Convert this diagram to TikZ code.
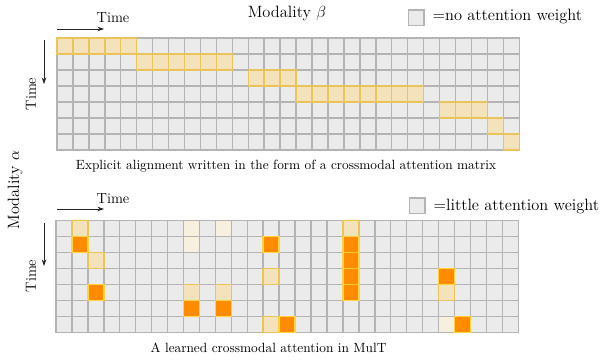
\documentclass[tikz,border=0pt]{standalone}
\usetikzlibrary{arrows.meta}
\definecolor{cellgray}{HTML}{EBEBEB}
\definecolor{linegray}{HTML}{B4B4B4}
\definecolor{lyfill}{HTML}{F4E3BA}
\definecolor{lyline}{HTML}{E8C45A}
\definecolor{orfill}{HTML}{FF8C00}
\definecolor{orline}{HTML}{FFD43C}
\definecolor{creamfill}{HTML}{F8F0DF}
\tikzset{
  cell/.style={fill=cellgray,draw=linegray,line width=1.1pt},
  lycell/.style={fill=lyfill,draw=lyline,line width=1.1pt},
  orcell/.style={fill=orfill,draw=orline,line width=1.1pt},
  timearrow/.style={-{Stealth[length=5pt,width=3.5pt]},line width=0.6pt,black!85},
  lbl/.style={inner sep=1pt,text=black},
  timelbl/.style={lbl,font=\fontsize{11}{13}\selectfont},
  caplbl/.style={lbl,font=\fontsize{10}{12}\selectfont},
  biglbl/.style={lbl,font=\fontsize{12.3}{14}\selectfont},
  legbox/.style={fill=cellgray,draw=linegray,line width=0.9pt}
}
\begin{document}
\begin{tikzpicture}[x=0.75pt,y=-0.75pt]
\useasboundingbox (0,0) rectangle (603,360);
\def\cw{15.94}\def\ch{16}
% ---------- top grid ----------
\def\tx{57}\def\ty{38}
\foreach \r in {0,...,6}{
  \foreach \c in {0,...,28}{
    \draw[cell] (\tx+\c*\cw,\ty+\r*\ch) rectangle ++(\cw,\ch);
  }
}
\foreach \c/\r in {0/0,1/0,2/0,3/0,4/0,
                   5/1,6/1,7/1,8/1,9/1,10/1,
                   12/2,13/2,14/2,
                   15/3,16/3,17/3,18/3,19/3,20/3,21/3,22/3,
                   24/4,25/4,26/4,
                   27/5,28/6}{
  \draw[lycell] (\tx+\c*\cw,\ty+\r*\ch) rectangle ++(\cw,\ch);
}
% ---------- bottom grid ----------
\def\bx{56}\def\by{220.7}
\foreach \r in {0,...,6}{
  \foreach \c in {0,...,28}{
    \draw[cell] (\bx+\c*\cw,\by+\r*\ch) rectangle ++(\cw,\ch);
  }
}
\foreach \c/\r in {8/0,8/1,10/0,24/6}{
  \fill[creamfill] (\bx+\c*\cw+0.6,\by+\r*\ch+0.6) rectangle ++(\cw-1.2,\ch-1.2);
}
\foreach \c/\r in {1/0,18/0,2/2,13/3,8/4,10/4,24/4,13/6}{
  \draw[lycell] (\bx+\c*\cw,\by+\r*\ch) rectangle ++(\cw,\ch);
}
\foreach \c/\r in {1/1,13/1,18/1,18/2,18/3,24/3,2/4,18/4,8/5,10/5,14/6,25/6}{
  \draw[orcell] (\bx+\c*\cw,\by+\r*\ch) rectangle ++(\cw,\ch);
}
% ---------- labels ----------
\node[biglbl] (modb) at (287,13) {Modality $\beta$};
\node[biglbl,rotate=90] (moda) at (15,190) {Modality $\alpha$};
\draw[legbox] (408.5,10) rectangle (424,25.5);
\node[biglbl,anchor=west] (leg1) at (431,16.5) {=no attention weight};
\draw[legbox] (409.5,198) rectangle (425,213.5);
\node[biglbl,anchor=west] (leg2) at (432,206) {=little attention weight};
% top time arrows
\coordinate (th1) at (57,29);
\coordinate (th2) at (104,29);
\draw[timearrow] (th1) -- (th2);
\node[timelbl] (tt1) at (113,18) {Time};
\coordinate (tv1) at (44,40);
\coordinate (tv2) at (44,84);
\draw[timearrow] (tv1) -- (tv2);
\node[timelbl,rotate=90] (tt2) at (31,94) {Time};
% bottom time arrows
\coordinate (bh1) at (57,209);
\coordinate (bh2) at (104,209);
\draw[timearrow] (bh1) -- (bh2);
\node[timelbl] (bt1) at (113,199) {Time};
\coordinate (bv1) at (44,223);
\coordinate (bv2) at (44,266);
\draw[timearrow] (bv1) -- (bv2);
\node[timelbl,rotate=90] (bt2) at (31,276) {Time};
% captions
\node[caplbl] (cap1) at (286,166) {Explicit alignment written in the form of a crossmodal attention matrix};
\node[caplbl] (cap2) at (268.5,348) {A learned crossmodal attention in MulT};
\end{tikzpicture}
\end{document}
